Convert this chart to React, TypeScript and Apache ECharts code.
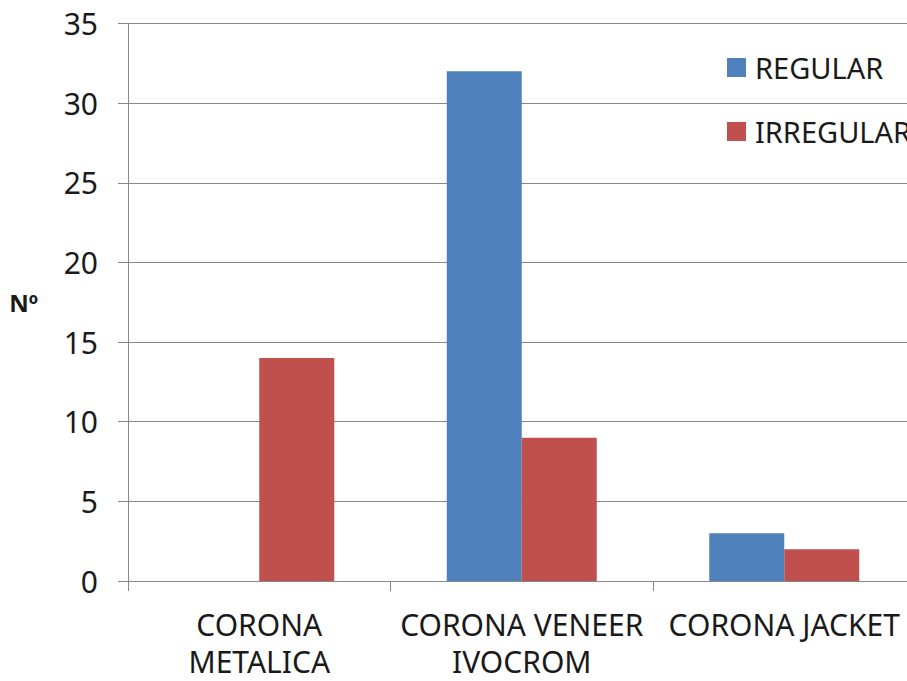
import React, { useEffect, useRef } from "react";
import * as echarts from "echarts";

const categories = ["CORONA\nMETALICA", "CORONA VENEER\nIVOCROM", "CORONA JACKET"];
const regular = [0, 32, 3];
const irregular = [14, 9, 2];
const seriesNames = ["REGULAR", "IRREGULAR"];
const yAxisName = "Nº";

export default function App() {
  const ref = useRef<HTMLDivElement>(null);
  useEffect(() => {
    if (!ref.current) return;
    const chart = echarts.init(ref.current, undefined, { renderer: "svg" });
    const font = "'Noto Sans', sans-serif";
    chart.setOption({
      animation: false,
      backgroundColor: "#ffffff",
      color: ["#4F81BD", "#C0504D"],
      grid: {
        left: 128,
        top: 23.5,
        bottom: 100,
        right: 1.5,
        containLabel: false,
        outerBoundsMode: "none",
      },
      legend: {
        orient: "vertical",
        left: 727,
        top: 53,
        padding: 0,
        itemWidth: 19,
        itemHeight: 19,
        itemGap: 35,
        icon: "rect",
        data: seriesNames,
        textStyle: { fontFamily: font, fontSize: 29, color: "#1a1a1a", padding: [0, 0, 0, 4] },
      },
      xAxis: {
        type: "category",
        data: categories,
        axisLine: { lineStyle: { color: "#888888", width: 1 } },
        axisTick: { show: true, length: 10, lineStyle: { color: "#888888" } },
        axisLabel: {
          interval: 0,
          margin: 25,
          fontFamily: font,
          fontSize: 30,
          lineHeight: 37,
          color: "#1a1a1a",
        },
      },
      yAxis: {
        type: "value",
        min: 0,
        max: 35,
        interval: 5,
        name: yAxisName,
        nameLocation: "middle",
        nameRotate: 0,
        nameGap: 90,
        nameTextStyle: { fontFamily: font, fontSize: 24, fontWeight: "bold", color: "#1a1a1a" },
        axisLine: { show: true, lineStyle: { color: "#888888", width: 1 } },
        axisTick: { show: true, length: 10, lineStyle: { color: "#888888" } },
        splitLine: { show: true, lineStyle: { color: "#888888", width: 1 } },
        axisLabel: { margin: 30, fontFamily: font, fontSize: 30, color: "#1a1a1a" },
      },
      series: [
        { name: seriesNames[0], type: "bar", data: regular, barWidth: 75, barGap: "0%" },
        { name: seriesNames[1], type: "bar", data: irregular, barWidth: 75, barGap: "0%" },
      ],
    });
    return () => chart.dispose();
  }, []);
  return (
    <div style={{ position: "fixed", left: 0, top: 0, width: 907, height: 681, overflow: "hidden", background: "#fff" }}>
      <div ref={ref} style={{ width: 917, height: 681 }} />
    </div>
  );
}
